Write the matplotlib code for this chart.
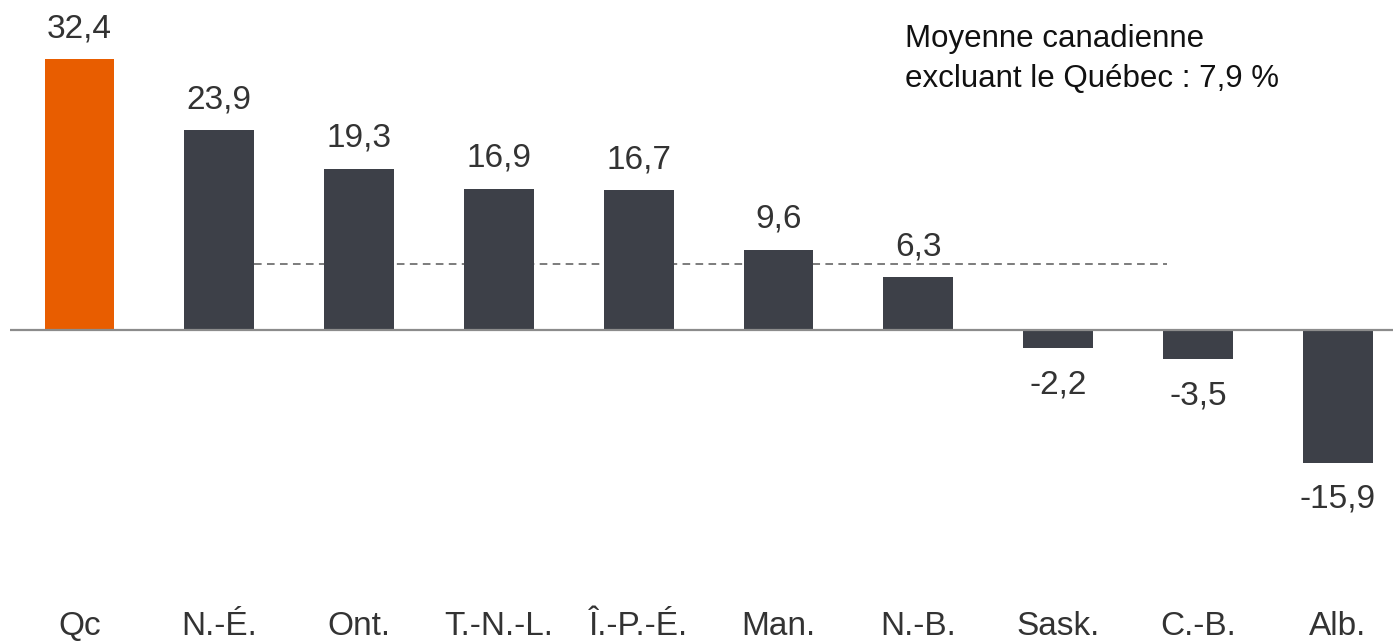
import matplotlib.pyplot as plt
from matplotlib.transforms import blended_transform_factory, offset_copy

# data
provinces = ["Qc", "N.-É.", "Ont.", "T.-N.-L.", "Î.-P.-É.", "Man.", "N.-B.", "Sask.", "C.-B.", "Alb."]
values = [32.4, 23.9, 19.3, 16.9, 16.7, 9.6, 6.3, -2.2, -3.5, -15.9]
value_labels = ["32,4", "23,9", "19,3", "16,9", "16,7", "9,6", "6,3", "-2,2", "-3,5", "-15,9"]
avg_excl_qc = 7.9
avg_text = "Moyenne canadienne\nexcluant le Québec : 7,9 %"

orange = "#E85D00"
dark = "#3D4048"
text_col = "#333333"

plt.rcParams['font.family'] = ['Liberation Sans', 'DejaVu Sans']

fig = plt.figure(figsize=(13.93, 6.41), dpi=100)
ax = fig.add_axes([0, 0, 1, 1])
ax.set_xlim(-0.569, 9.396)
ax.set_ylim(-37.18, 39.45)
ax.axis('off')

x = list(range(len(provinces)))
colors = [orange] + [dark] * (len(provinces) - 1)
ax.bar(x, values, width=0.5, color=colors, zorder=3)

# zero line
ax.plot([-0.5, 9.5], [0, 0], color="#8C8C8C", lw=1.6, zorder=4, solid_capstyle='butt')

# average line (behind the bars)
ax.plot([1.25, 7.78], [avg_excl_qc, avg_excl_qc], color="#595959", lw=1.1,
        dashes=(5, 3.5), zorder=2)

# value labels
for xi, v, lab in zip(x, values, value_labels):
    dy = 15.8 if v > 0 else -32.4
    tr = offset_copy(ax.transData, fig=fig, x=0, y=dy, units='points')
    ax.text(xi, v, lab, transform=tr, ha='center', va='baseline',
            fontsize=24, color=text_col)

# category labels
btr = blended_transform_factory(ax.transData, ax.transAxes)
for xi, name in zip(x, provinces):
    ax.text(xi, 1 - 635 / 641, name, transform=btr, ha='center', va='baseline',
            fontsize=24, color=text_col)

# note (baseline of the last line)
ax.text(905 / 1393, 1 - 87 / 641, avg_text, transform=ax.transAxes, ha='left', va='baseline',
        fontsize=22.5, color="#111111", linespacing=1.42)

fig.savefig("out.png", dpi=100)
